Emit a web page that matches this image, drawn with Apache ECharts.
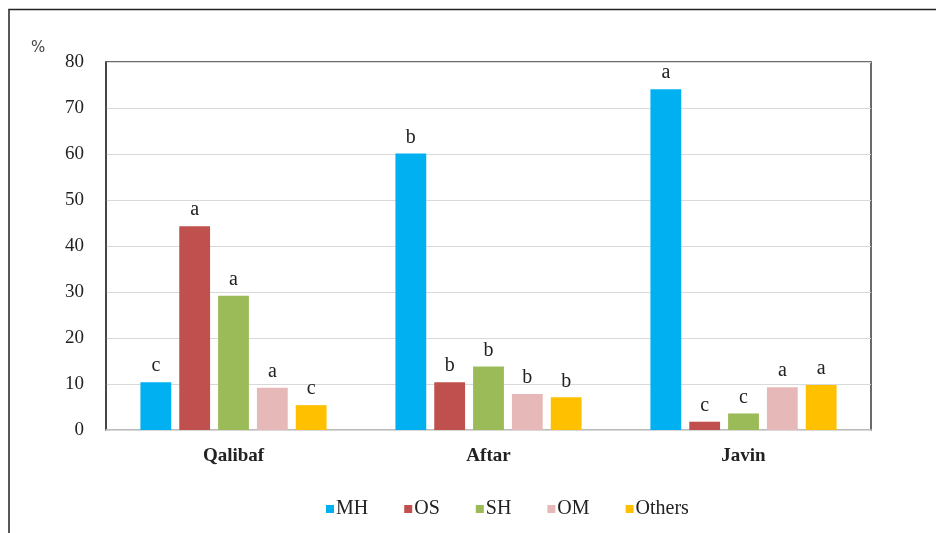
<!DOCTYPE html>
<html>
<head>
<meta charset="utf-8">
<script src="https://cdn.jsdelivr.net/npm/echarts@6/dist/echarts.min.js"></script>
<style>html,body{margin:0;padding:0;background:#fff;}#c{width:936px;height:533px;}</style>
</head>
<body>
<div id="c"></div>
<script>
var categories = ['Qalibaf', 'Aftar', 'Javin'];
var seriesNames = ['MH', 'OS', 'SH', 'OM', 'Others'];
var MH = [10.4, 60.1, 74.1];
var OS = [44.3, 10.4, 1.8];
var SH = [29.2, 13.8, 3.6];
var OM = [9.2, 7.8, 9.3];
var Others = [5.4, 7.1, 9.8];
var MH_letters = ['c', 'b', 'a'];
var OS_letters = ['a', 'b', 'c'];
var SH_letters = ['a', 'b', 'c'];
var OM_letters = ['a', 'b', 'a'];
var Others_letters = ['c', 'b', 'a'];
var yTicks = [0, 10, 20, 30, 40, 50, 60, 70, 80];
var colors = ['#00B0F0', '#C0504D', '#9BBB59', '#E6B9B8', '#FFC000'];

var values = [MH, OS, SH, OM, Others];
var letters = [MH_letters, OS_letters, SH_letters, OM_letters, Others_letters];
var serif = '"Liberation Serif", "DejaVu Serif", "Times New Roman", serif';

var series = seriesNames.map(function (name, i) {
  return {
    name: name,
    type: 'bar',
    data: values[i],
    barGap: '26%',
    barCategoryGap: '27%',
    itemStyle: { color: colors[i] },
    label: {
      show: true,
      position: 'top',
      distance: 6,
      fontFamily: serif,
      fontSize: 20,
      color: '#222',
      formatter: (function (arr) { return function (p) { return arr[p.dataIndex]; }; })(letters[i])
    }
  };
});

var chart = echarts.init(document.getElementById('c'), null, { renderer: 'canvas' });
chart.setOption({
  animation: false,
  backgroundColor: '#fff',
  color: colors,
  graphic: [
    { type: 'polyline', shape: { points: [[9, 540], [9, 9.5], [945, 9.5]] }, style: { stroke: '#222', lineWidth: 1.5, fill: null } },
    { type: 'text', left: 31, top: 41, style: { text: '%', font: '15px "DejaVu Sans", sans-serif', fill: '#444' } }
  ],
  grid: {
    left: 106, right: 65, top: 62, bottom: 103,
    show: true, borderColor: '#3a3a3a', borderWidth: 1.5, backgroundColor: 'transparent'
  },
  legend: {
    data: seriesNames,
    left: 321, top: 494,
    icon: 'rect', itemWidth: 8, itemHeight: 8, itemGap: 36,
    textStyle: { fontFamily: serif, fontSize: 20, color: '#222', padding: [0, 0, 0, -3] }
  },
  xAxis: {
    type: 'category',
    data: categories,
    axisLine: { show: true, lineStyle: { color: '#d6d6d6', width: 1.5 } },
    axisTick: { show: false },
    axisLabel: { fontFamily: serif, fontWeight: 'bold', fontSize: 19, color: '#222', margin: 17 }
  },
  yAxis: {
    type: 'value',
    min: 0, max: 80, interval: 10,
    axisLine: { show: true, lineStyle: { color: '#3a3a3a', width: 1.5 } },
    axisTick: { show: false },
    splitLine: { lineStyle: { color: '#d9d9d9', width: 1.2 } },
    axisLabel: {
      fontFamily: serif, fontSize: 19, color: '#222', margin: 22,
      formatter: function (v) { return yTicks.indexOf(v) >= 0 ? String(v) : ''; }
    }
  },
  series: series
});
</script>
</body>
</html>
